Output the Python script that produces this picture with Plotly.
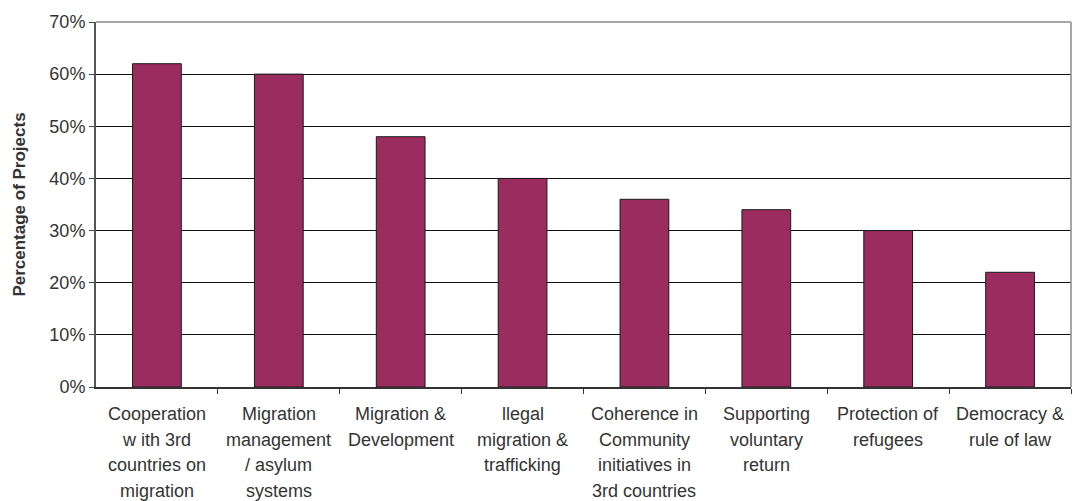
import plotly.graph_objects as go

categories = [
    "Cooperation<br>w ith 3rd<br>countries on<br>migration",
    "Migration<br>management<br>/ asylum<br>systems",
    "Migration &<br>Development",
    "llegal<br>migration &<br>trafficking",
    "Coherence in<br>Community<br>initiatives in<br>3rd countries",
    "Supporting<br>voluntary<br>return",
    "Protection of<br>refugees",
    "Democracy &<br>rule of law",
]
values = [62, 60, 48, 40, 36, 34, 30, 22]
y_ticks = [0, 10, 20, 30, 40, 50, 60, 70]
y_title = "Percentage of Projects"

FONT = "Liberation Sans, Arial, sans-serif"
TXT = "#333333"

fig = go.Figure()
fig.add_trace(go.Bar(
    x=list(range(len(categories))), y=values,
    width=0.4,
    marker=dict(color="#9A2C5F", line=dict(color="#1a1a1a", width=1)),
    hoverinfo="skip",
))

annotations = []
for i, lab in enumerate(categories):
    for j, line in enumerate(lab.split("<br>")):
        annotations.append(dict(
            x=i, y=0, xref="x", yref="paper", text=line, showarrow=False,
            yanchor="top", xanchor="center", yshift=-15 - j * 25.7,
            font=dict(family=FONT, size=18, color=TXT),
        ))

fig.update_layout(
    width=1073, height=501,
    margin=dict(l=96, r=2, t=22, b=114),
    paper_bgcolor="white", plot_bgcolor="white",
    showlegend=False,
    bargap=0.6,
    annotations=annotations,
    xaxis=dict(
        range=[-0.5, len(categories) - 0.5],
        tickmode="array", tickvals=[i + 0.5 for i in range(len(categories))],
        ticktext=[""] * len(categories),
        ticks="outside", ticklen=5, tickcolor="#333",
        showgrid=False, zeroline=False, automargin=False,
        showline=True, linecolor="#333", linewidth=1.5,
    ),
    yaxis=dict(
        range=[0, 70], tickvals=y_ticks, ticktext=[f"{v}%" for v in y_ticks],
        ticks="outside", ticklen=5, tickcolor="#444",
        showgrid=True, gridcolor="#111", gridwidth=1,
        zeroline=False, showline=True, linecolor="#555", linewidth=2,
        automargin=False,
        tickfont=dict(family=FONT, size=18, color=TXT),
        title=dict(text=f"<b>{y_title}</b>", font=dict(family=FONT, size=17, color=TXT), standoff=19),
    ),
    shapes=[
        dict(type="line", xref="paper", yref="paper", x0=0, x1=1, y0=1, y1=1,
             line=dict(color="#888", width=1.5)),
        dict(type="line", xref="paper", yref="paper", x0=1, x1=1, y0=0, y1=1,
             line=dict(color="#888", width=1.5)),
    ],
)

fig.write_html("out.html", config={"displayModeBar": False},
               post_script="document.body.style.margin='0';document.body.style.overflow='hidden';")
